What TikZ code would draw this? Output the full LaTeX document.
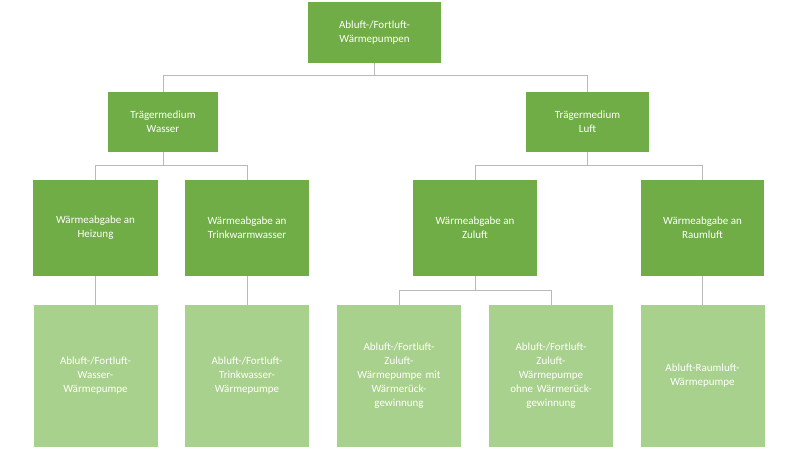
\documentclass[tikz,border=0pt]{standalone}
\usepackage{fontspec}
\setmainfont{Carlito}
\definecolor{dkgreen}{HTML}{70AD47}
\definecolor{ltgreen}{HTML}{A9D18E}
\begin{document}
\begin{tikzpicture}[x=1pt,y=-1pt,
top/.style={rectangle, fill=dkgreen, text=white, align=center, inner sep=2pt, font=\fontsize{11}{14}\selectfont},
leaf/.style={rectangle, fill=ltgreen, text=white, align=center, inner sep=2pt, minimum width=124pt, minimum height=142pt, text width=118pt, font=\fontsize{11}{14}\selectfont},
conn/.style={draw=gray!55, line width=0.6pt}]
\useasboundingbox (0,0) rectangle (800,450);

\draw (374.5,32.5) node[top, minimum width=133pt, minimum height=61pt] (AF) {Abluft-/Fortluft-\\Wärmepumpen};
\draw (163,122) node[top, minimum width=110pt, minimum height=60pt] (TW) {Trägermedium\\Wasser};
\draw (587.5,122) node[top, minimum width=123pt, minimum height=60pt] (TL) {Trägermedium\\Luft};

\draw (95.5,228) node[top, minimum width=125pt, minimum height=96pt] (WH) {Wärmeabgabe an\\Heizung};
\draw (247,228) node[top, minimum width=124pt, minimum height=96pt] (WT) {Wärmeabgabe an\\Trinkwarmwasser};
\draw (475,228) node[top, minimum width=124pt, minimum height=96pt] (WZ) {Wärmeabgabe an\\Zuluft};
\draw (702.5,228) node[top, minimum width=123pt, minimum height=96pt] (WR) {Wärmeabgabe an\\Raumluft};

\draw (95.5,376) node[leaf] (PH) {Abluft-/Fortluft-\\Wasser-\\Wärmepumpe};
\draw (247,376) node[leaf] (PT) {Abluft-/Fortluft-\\Trinkwasser-\\Wärmepumpe};
\draw (399,376) node[leaf] (PM) {Abluft-/Fortluft-\\Zuluft-\\Wärmepumpe mit\\Wärmerück-\\gewinnung};
\draw (551,376) node[leaf] (PO) {Abluft-/Fortluft-\\Zuluft-\\Wärmepumpe\\ohne Wärmerück-\\gewinnung};
\draw (702.5,376) node[leaf] (PR) {Abluft-Raumluft-\\Wärmepumpe};

\draw[conn] (AF.south) -- ++(0,12) -| (TW.north);
\draw[conn] (AF.south) -- ++(0,12) -| (TL.north);
\draw[conn] (TW.south) -- ++(0,13) -| (WH.north);
\draw[conn] (TW.south) -- ++(0,13) -| (WT.north);
\draw[conn] (TL.south) -- ++(0,13) -| (WZ.north);
\draw[conn] (TL.south) -- ++(0,13) -| (WR.north);
\draw[conn] (WH.south) -- (PH.north);
\draw[conn] (WT.south) -- (PT.north);
\draw[conn] (WZ.south) -- ++(0,14) -| (PM.north);
\draw[conn] (WZ.south) -- ++(0,14) -| (PO.north);
\draw[conn] (WR.south) -- (PR.north);
\end{tikzpicture}
\end{document}
